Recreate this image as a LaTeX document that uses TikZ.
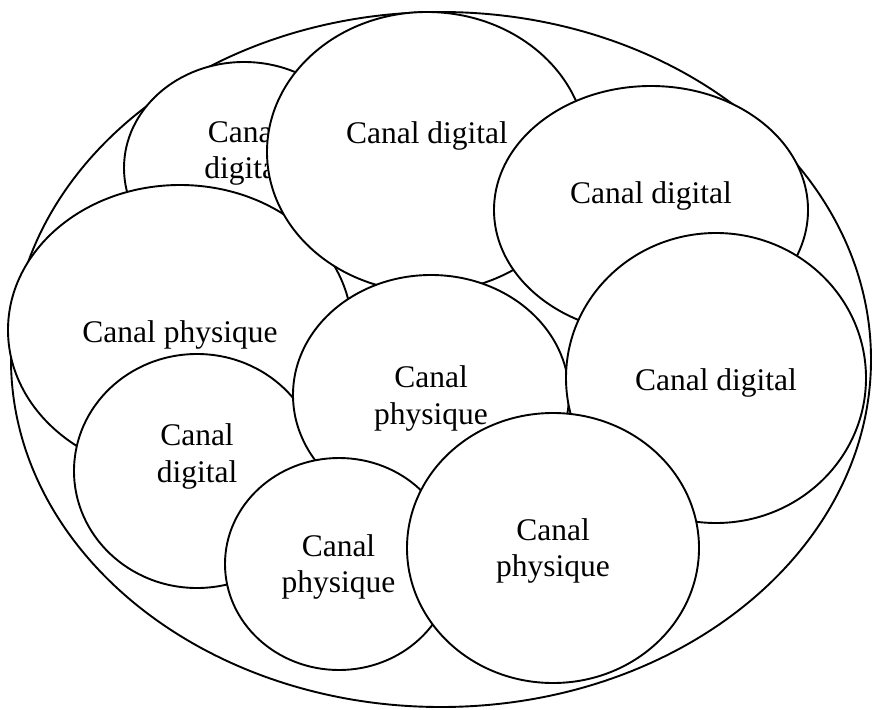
\documentclass[tikz,border=0pt]{standalone}
\usepackage{fontspec}
\setmainfont{Liberation Serif}
\usetikzlibrary{shapes.geometric}

\tikzset{
  bubble/.style 2 args={ellipse, draw=black, fill=white, line width=1.9pt,
    inner sep=0pt, outer sep=0pt, minimum width=#1, minimum height=#2},
  chanlabel/.style={inner sep=0pt, align=center,
    font=\fontsize{31.5}{36.5}\selectfont}
}

\begin{document}
\begin{tikzpicture}[x=1pt, y=-1pt]
  \useasboundingbox (0,0) rectangle (872,709);

  % enclosing ellipse
  \node[bubble={860pt}{695pt}] (outer) at (441,359.5) {};

  % channels, back to front
  \node[bubble={240pt}{212pt}] (e1) at (244,168) {};
  \node[chanlabel] (t1) at (244.5,153) {Canal\\digital};

  \node[bubble={344pt}{290pt}] (e4) at (180,330) {};
  \node[chanlabel] (t4) at (180,334.7) {Canal physique};

  \node[bubble={320pt}{280pt}] (e2) at (427,152) {};
  \node[chanlabel] (t2) at (427,135.7) {Canal digital};

  \node[bubble={314pt}{248pt}] (e3) at (651,210) {};
  \node[chanlabel] (t3) at (651,195.7) {Canal digital};

  \node[bubble={246pt}{234pt}] (e7) at (197,471) {};
  \node[chanlabel] (t7) at (197,456.7) {Canal\\digital};

  \node[bubble={276pt}{240pt}] (e5) at (431,395) {};
  \node[chanlabel] (t5) at (431,398.7) {Canal\\physique};

  \node[bubble={300pt}{290pt}] (e6) at (716,378) {};
  \node[chanlabel] (t6) at (716,382.7) {Canal digital};

  \node[bubble={228pt}{212pt}] (e8) at (339,564) {};
  \node[chanlabel] (t8) at (338.5,567.2) {Canal\\physique};

  \node[bubble={292pt}{270pt}] (e9) at (553,548) {};
  \node[chanlabel] (t9) at (553,551.2) {Canal\\physique};
\end{tikzpicture}
\end{document}
